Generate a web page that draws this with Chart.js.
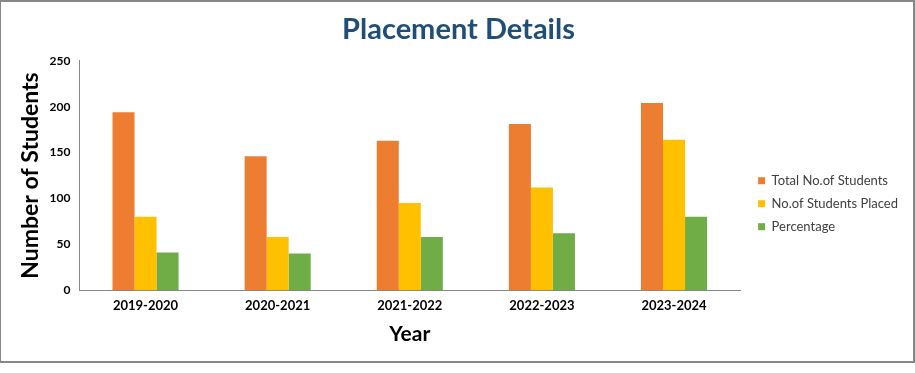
<!DOCTYPE html>
<html lang="en">
<head>
    <meta charset="UTF-8">
    <title>Placement Details</title>
    <script src="https://cdn.jsdelivr.net/npm/chart.js"></script>
    <style>
        body {
            margin: 0;
            background: #fff;
        }
        .frame {
            position: absolute;
            left: 0;
            top: 0;
            width: 912px;
            height: 359px;
            border: 1px solid #888;
            border-width: 2px 2px 2px 1px;
        }
        .frame canvas {
            display: block;
        }
    </style>
</head>
<body>

<div class="frame">
    <canvas id="placementChart" width="912" height="359"></canvas>
</div>

<script>
    const years = ['2019-2020', '2020-2021', '2021-2022', '2022-2023', '2023-2024'];
    const totalStudents = [194, 146, 163, 181, 204];
    const studentsPlaced = [80, 58, 95, 112, 164];
    const percentage = [41, 40, 58, 62, 80];
    const yTicks = [0, 50, 100, 150, 200, 250];

    const fontFamily = "'Lato', 'Noto Sans', sans-serif";

    // nudge the legend a little to the right of where the layout put it
    const legendNudge = {
        id: 'legendNudge',
        afterLayout(chart) {
            chart.legend.left += 8;
            chart.legend.right += 8;
        }
    };

    const ctx = document.getElementById('placementChart').getContext('2d');
    new Chart(ctx, {
        type: 'bar',
        data: {
            labels: years,
            datasets: [
                { label: 'Total No.of Students', data: totalStudents, backgroundColor: '#ED7D31' },
                { label: 'No.of Students Placed', data: studentsPlaced, backgroundColor: '#FFC000' },
                { label: 'Percentage', data: percentage, backgroundColor: '#70AD47' }
            ]
        },
        options: {
            responsive: false,
            animation: false,
            categoryPercentage: 0.5,
            barPercentage: 1.0,
            layout: { padding: { left: 16, right: 13, top: 0, bottom: 14 } },
            plugins: {
                title: {
                    display: true,
                    text: 'Placement Details',
                    color: '#1F4E79',
                    font: { family: fontFamily, size: 29, weight: 'bold' },
                    padding: { top: 10, bottom: 14 }
                },
                legend: {
                    position: 'right',
                    align: 'center',
                    // empty title only pushes the items down a bit
                    title: { display: true, text: ' ', padding: { top: 44, bottom: 0 } },
                    labels: {
                        boxWidth: 7,
                        boxHeight: 7,
                        padding: 10,
                        color: '#404040',
                        font: { family: fontFamily, size: 13 }
                    }
                },
                tooltip: { enabled: false }
            },
            scales: {
                x: {
                    grid: { display: false, drawTicks: false },
                    border: { color: '#888', width: 1 },
                    ticks: {
                        color: '#000',
                        padding: 8,
                        font: { family: fontFamily, size: 13, weight: 'bold' }
                    },
                    title: {
                        display: true,
                        text: 'Year',
                        color: '#000',
                        font: { family: fontFamily, size: 21, weight: 'bold' },
                        padding: { top: 0, bottom: 0 }
                    }
                },
                y: {
                    min: 0,
                    max: 250,
                    afterBuildTicks: axis => { axis.ticks = yTicks.map(v => ({ value: v })); },
                    grid: { display: false, drawTicks: true, tickLength: 4, tickColor: '#888' },
                    border: { color: '#888', width: 1 },
                    ticks: {
                        color: '#000',
                        padding: 5,
                        font: { family: fontFamily, size: 12, weight: 'bold' }
                    },
                    title: {
                        display: true,
                        text: 'Number of Students',
                        color: '#000',
                        font: { family: fontFamily, size: 23, weight: 'bold' },
                        padding: { top: 0, bottom: 0 }
                    }
                }
            }
        },
        plugins: [legendNudge]
    });
</script>

</body>
</html>
